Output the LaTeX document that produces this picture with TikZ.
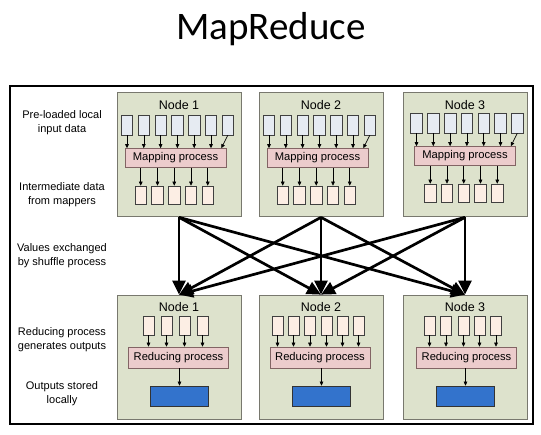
\documentclass[tikz,border=0pt]{standalone}
\usepackage{fontspec}
\setmainfont{Liberation Sans}
\newfontfamily\titlefont{Carlito}
\usetikzlibrary{arrows.meta,calc}
\definecolor{nodebg}{RGB}{221,226,204}
\definecolor{nodeedge}{RGB}{120,120,110}
\definecolor{infill}{RGB}{230,235,242}
\definecolor{midfill}{RGB}{252,238,228}
\definecolor{procfill}{RGB}{236,204,204}
\definecolor{procedge}{RGB}{130,100,100}
\definecolor{outblue}{RGB}{51,115,204}
\tikzset{
  nodebox/.style={draw=nodeedge, fill=nodebg, line width=0.7pt, minimum width=124pt, minimum height=124pt, inner sep=0pt},
  nodelabel/.style={font=\fontsize{12.5}{14}\selectfont, inner sep=0pt},
  inbox/.style={draw=black!75, fill=infill, line width=0.6pt, minimum width=11.5pt, minimum height=20pt, inner sep=0pt},
  midbox/.style={draw=black!75, fill=midfill, line width=0.6pt, minimum width=11.5pt, minimum height=18pt, inner sep=0pt},
  redin/.style={draw=black!75, fill=midfill, line width=0.6pt, minimum width=11pt, minimum height=19pt, inner sep=0pt},
  procbox/.style={draw=procedge, fill=procfill, line width=0.6pt, minimum height=19pt, inner sep=0pt, font=\fontsize{11.2}{13}\selectfont},
  outbox/.style={draw=black!80, fill=outblue, line width=0.7pt, minimum width=58pt, minimum height=20pt, inner sep=0pt},
  sarrow/.style={line width=0.6pt, -{Triangle[length=4pt,width=3.6pt]}},
  bigarrow/.style={line width=2.7pt, -{Triangle[length=14pt,width=13pt]}},
  sidelabel/.style={align=center, font=\fontsize{11}{13.8}\selectfont, inner sep=0pt},
}
\begin{document}
\begin{tikzpicture}[x=1pt,y=-1pt]
\useasboundingbox (0,0) rectangle (541,435);
\node[anchor=base, inner sep=0pt, font=\titlefont\fontsize{39}{44}\selectfont] (title) at (271,40) {MapReduce};
\draw[line width=2pt] (10,86) rectangle (533,424);
% side labels
\node[sidelabel] (l1) at (62,123) {Pre-loaded local\\input data};
\node[sidelabel] (l2) at (62,195) {Intermediate data\\from mappers};
\node[sidelabel] (l3) at (62,256) {Values exchanged\\by shuffle process};
\node[sidelabel] (l4) at (62,340) {Reducing process\\generates outputs};
\node[sidelabel] (l5) at (62,394) {Outputs stored\\locally};
% top (mapping) nodes
\foreach \n/\x/\s/\dy in {1/117/4/0, 2/259/4/0, 3/403/7.5/-2}{
  \node[nodebox] (T\n) at (\x+62,154) {};
  \node[nodelabel] (T\n-lab) at (\x+62,105) {Node \n};
  \node[procbox, minimum width=101pt] (T\n-map) at (\x+\s+54.5,158+\dy) {Mapping process};
  \foreach \i in {0,...,6}{
    \node[inbox] (T\n-in\i) at (\x+\s+6+16.8*\i,125+\dy) {};
  }
  \foreach \i in {0,...,5}{
    \draw[sarrow] (T\n-in\i.south) -- (T\n-in\i.south |- T\n-map.north);
  }
  \draw[sarrow] (T\n-in6.south) -- ($(T\n-map.north east)+(-5,0)$);
  \foreach \j in {0,...,4}{
    \node[midbox] (T\n-mid\j) at (\x+\s+19.75+16.75*\j,195+\dy) {};
    \draw[sarrow] (T\n-mid\j.north |- T\n-map.south) -- (T\n-mid\j.north);
  }
}
% bottom (reducing) nodes
\foreach \n/\x/\cx/\list in {1/117/178.5/{148.5,166.5,184.5,202.5}, 2/259/320/{277.5,293.5,310,326.5,342.5,358.5}, 3/403/466.5/{429.5,446,463.5,479.5,496}}{
  \node[nodebox] (B\n) at (\x+62,357) {};
  \node[nodelabel] (B\n-lab) at (\x+62,307) {Node \n};
  \node[procbox, minimum width=100pt, minimum height=21pt] (B\n-red) at (\cx,357.5) {Reducing process};
  \foreach \c [count=\k] in \list {
    \node[redin] (B\n-in\k) at (\c,325.5) {};
    \draw[sarrow] (B\n-in\k.south) -- (B\n-in\k.south |- B\n-red.north);
  }
  \node[outbox] (B\n-out) at (\x+62.5,396) {};
  \draw[sarrow] (B\n-out.north |- B\n-red.south) -- (B\n-out.north);
}
% shuffle arrows
\foreach \a in {1,2,3}{
  \foreach \b in {1,2,3}{
    \draw[bigarrow] ([yshift=-1pt]T\a.south) -- (B\b.north);
  }
}
\end{tikzpicture}
\end{document}
